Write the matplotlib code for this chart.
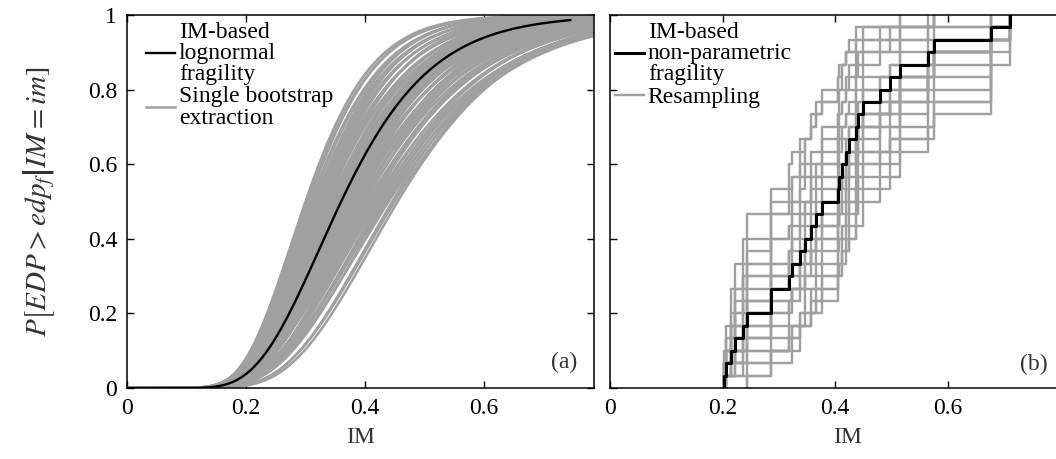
import math

import numpy as np
import matplotlib
matplotlib.use("Agg")
import matplotlib.pyplot as plt  # noqa: E402

plt.rcParams["font.family"] = "serif"
plt.rcParams["font.serif"] = ["Liberation Serif", "DejaVu Serif"]
plt.rcParams["mathtext.fontset"] = "stix"

# (a) IM-based lognormal fragility and the bootstrap extractions (median, beta)
frag_median = 0.36
frag_beta = 0.33
frag_im_max = 0.745
boot_medians = [
    0.300, 0.303, 0.306, 0.309, 0.312, 0.315, 0.317, 0.319, 0.321, 0.323,
    0.325, 0.327, 0.329, 0.331, 0.333, 0.335, 0.337, 0.339, 0.341, 0.343,
    0.345, 0.346, 0.347, 0.349, 0.350, 0.351, 0.353, 0.354, 0.355, 0.357,
    0.358, 0.359, 0.361, 0.362, 0.363, 0.365, 0.366, 0.367, 0.369, 0.370,
    0.371, 0.373, 0.374, 0.376, 0.377, 0.379, 0.381, 0.383, 0.385, 0.387,
    0.389, 0.391, 0.393, 0.395, 0.397, 0.399, 0.401, 0.404, 0.407, 0.410,
    0.413, 0.416, 0.419, 0.422, 0.425, 0.428, 0.431, 0.434, 0.437, 0.440,
    0.446, 0.450, 0.455,
]
boot_betas = [
    0.288, 0.292, 0.285, 0.300, 0.295, 0.310, 0.290, 0.305, 0.320, 0.298,
    0.312, 0.330, 0.302, 0.318, 0.340, 0.308, 0.325, 0.296, 0.335, 0.315,
    0.345, 0.322, 0.305, 0.338, 0.328, 0.350, 0.312, 0.332, 0.355, 0.318,
    0.342, 0.326, 0.360, 0.308, 0.336, 0.348, 0.320, 0.356, 0.330, 0.345,
    0.315, 0.362, 0.338, 0.325, 0.352, 0.342, 0.365, 0.330, 0.348, 0.358,
    0.335, 0.368, 0.345, 0.352, 0.328, 0.362, 0.340, 0.370, 0.350, 0.358,
    0.345, 0.365, 0.355, 0.372, 0.348, 0.362, 0.358, 0.370, 0.352, 0.365,
    0.335, 0.340, 0.330,
]
boot_im_max = 0.79

# (b) sorted IM of the 30 records and the resampled record counts
record_im = [
    0.203, 0.207, 0.215, 0.222, 0.236, 0.243, 0.286, 0.287, 0.319, 0.323,
    0.338, 0.347, 0.357, 0.367, 0.376, 0.405, 0.407, 0.412, 0.420, 0.425,
    0.438, 0.440, 0.449, 0.480, 0.497, 0.516, 0.566, 0.575, 0.677, 0.711,
]
resample_counts = [
    "32322 21121 10111 20111 10000 10000",
    "00000 10101 20111 10111 10211 21361",
    "21231 21201 21102 12011 10101 01000",
    "01001 01020 12011 20111 12102 23121",
    "13212 12212 12111 10210 10100 10000",
    "10010 10010 10101 21102 12111 11144",
    "20111 21111 10211 11021 20110 11120",
    "11010 12101 01111 11011 21111 22121",
    "12112 21212 11102 20110 10110 11100",
    "00000 11101 10121 10110 21111 21252",
    "11102 10210 21012 10210 11102 10212",
    "22132 22111 21211 11010 10010 00100",
    "02011 10101 11011 21111 11020 22212",
    "11211 22012 11201 11110 20101 12010",
    "10000 11011 01101 11211 12111 12133",
    "10211 21010 12101 21111 12111 20110",
    "21121 20111 21211 11011 21101 10100",
    "01010 11001 10201 21111 11111 22312",
    "11011 22121 11111 11101 10101 12111",
    "21212 21111 10111 22111 11010 10100",
    "11201 20111 12011 10111 11010 12032",
    "10110 21101 20111 11201 11111 11221",
    "01101 11021 11111 12011 21110 11122",
    "21110 12110 01201 20111 01201 21112",
    "01101 11111 02110 11121 12011 21211",
]

GRAY = "#a0a0a0"
LABEL = "#333333"
FS = 17
erf = np.vectorize(math.erf)


def lognormal_cdf(im, median, beta):
    return 0.5 * (1.0 + erf(np.log(im / median) / (beta * math.sqrt(2.0))))


def ecdf_xy(xs, counts):
    n = sum(counts)
    px, py, c = [], [], 0
    for x, k in zip(xs, counts):
        if k == 0:
            continue
        px += [x, x]
        py += [c / n, (c + k) / n]
        c += k
    return px, py


W, H = 1056, 459
fig = plt.figure(figsize=(W / 100, H / 100), dpi=100)
bot, top = 1 - 388 / H, 1 - 15 / H
ax1 = fig.add_axes([127 / W, bot, (594 - 127) / W, top - bot])
ax2 = fig.add_axes([610 / W, bot, (1086 - 610) / W, top - bot])

# panel (a)
im = np.linspace(1e-4, boot_im_max, 400)
for i, (m, b) in enumerate(zip(boot_medians, boot_betas)):
    ax1.plot(im, lognormal_cdf(im, m, b), color=GRAY, lw=1.8,
             label="Single bootstrap\nextraction" if i == 0 else None)
im_f = np.linspace(1e-4, frag_im_max, 400)
ax1.plot(im_f, lognormal_cdf(im_f, frag_median, frag_beta), color="k", lw=1.7,
         label="IM-based\nlognormal\nfragility")
ax1.set_xlim(0, 0.785)

# panel (b)
for i, s in enumerate(resample_counts):
    cnt = [int(ch) for ch in s.replace(" ", "")]
    px, py = ecdf_xy(record_im, cnt)
    ax2.plot(px, py, color=GRAY, lw=1.7,
             label="Resampling" if i == 0 else None)
px, py = ecdf_xy(record_im, [1] * len(record_im))
ax2.plot(px, py, color="k", lw=2.2, label="IM-based\nnon-parametric\nfragility")
ax2.set_xlim(0, 0.846)

for ax, anchor in ((ax1, 0.03), (ax2, 0.0)):
    ax.set_ylim(0, 1)
    ax.set_xticks([0, 0.2, 0.4, 0.6])
    ax.set_xticklabels(["0", "0.2", "0.4", "0.6"])
    ax.set_yticks([0, 0.2, 0.4, 0.6, 0.8, 1])
    ax.tick_params(direction="in", top=True, length=5, width=1,
                   labelsize=FS, pad=7)
    for sp in ax.spines.values():
        sp.set_linewidth(1.1)
    ax.set_xlabel("IM", fontsize=FS, color=LABEL, labelpad=6)
    handles, labels = ax.get_legend_handles_labels()
    leg = ax.legend(handles[::-1], labels[::-1], loc="upper left",
                    bbox_to_anchor=(anchor, 0.995), frameon=False,
                    fontsize=FS, handlelength=1.25, handletextpad=0.15,
                    borderaxespad=0.1, borderpad=0.1, labelspacing=0.05)
    for t in leg.get_texts():
        t.set_linespacing(1.02)

ax1.tick_params(right=True)
ax1.set_yticklabels(["0", "0.2", "0.4", "0.6", "0.8", "1"])
ax2.tick_params(labelleft=False)
ax2.spines["right"].set_visible(False)

ax1.set_ylabel(r"$P\left[EDP > edp_f\right|\left.IM = im\right]$",
               fontsize=21, color=LABEL)
ax1.yaxis.set_label_coords(-0.15, 0.5)

ax1.text(0.965, 0.04, "(a)", transform=ax1.transAxes, ha="right",
         va="bottom", fontsize=FS, color=LABEL)
ax2.text(0.92, 0.035, "(b)", transform=ax2.transAxes, ha="right",
         va="bottom", fontsize=FS, color=LABEL)

fig.savefig("out.png", dpi=100)
